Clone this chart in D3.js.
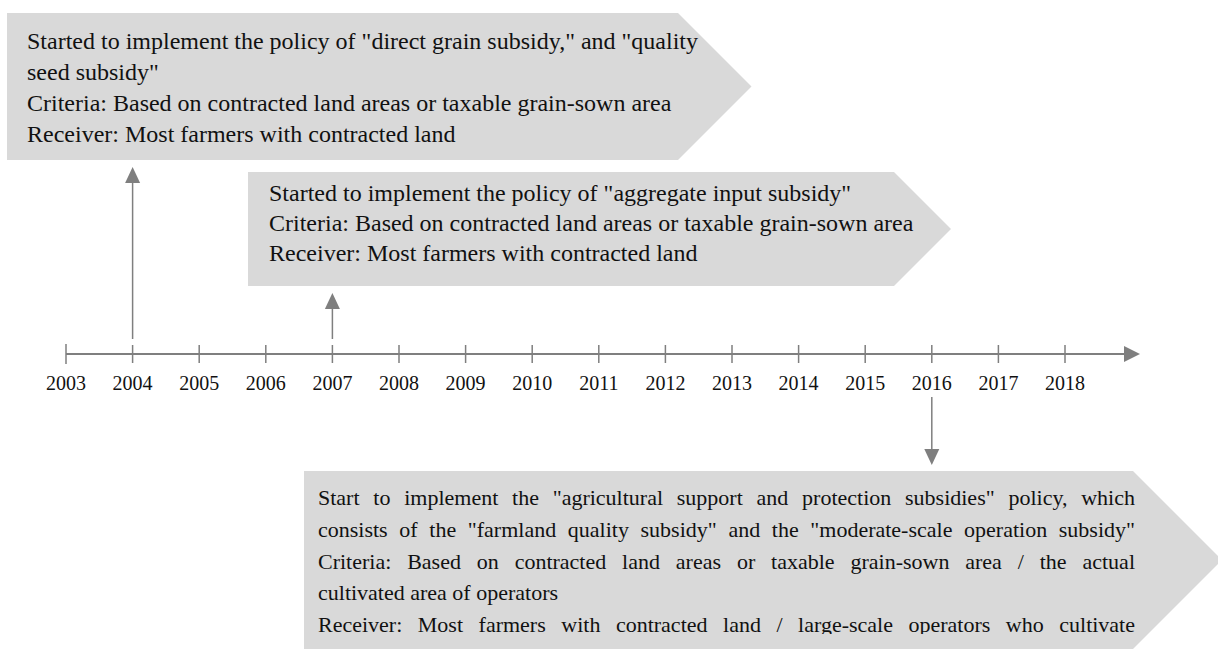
<!DOCTYPE html>
<html>
<head>
<meta charset="utf-8">
<script src="https://cdn.jsdelivr.net/npm/d3@7"></script>
<style>
  html, body { margin: 0; padding: 0; background: #fff; }
  svg { display: block; }
  .box-text { font-family: "Liberation Serif", "Times New Roman", serif; fill: #111; }
  .year-label { font-family: "Liberation Serif", "Times New Roman", serif; font-size: 20px; fill: #111; }
</style>
</head>
<body>
<div id="chart"></div>
<script>
// timeline years
var years = [2003, 2004, 2005, 2006, 2007, 2008, 2009, 2010, 2011, 2012, 2013, 2014, 2015, 2016, 2017, 2018];

// policy events on the timeline
var eventYears = [2004, 2007, 2016];
var eventSides = ["up", "up", "down"];
var eventTexts = [
    [
        'Started to implement the policy of "direct grain subsidy," and "quality',
        'seed subsidy"',
        'Criteria: Based on contracted land areas or taxable grain-sown area',
        'Receiver: Most farmers with contracted land'
    ],
    [
        'Started to implement the policy of "aggregate input subsidy"',
        'Criteria: Based on contracted land areas or taxable grain-sown area',
        'Receiver: Most farmers with contracted land'
    ],
    [
        'Start to implement the "agricultural support and protection subsidies" policy, which',
        'consists of the "farmland quality subsidy" and the "moderate-scale operation subsidy"',
        'Criteria: Based on contracted land areas or taxable grain-sown area / the actual',
        'cultivated area of operators',
        'Receiver: Most farmers with contracted land / large-scale operators who cultivate'
    ]
];
// lines that are justified (last line of a paragraph is not)
var justifyLines = [
    [false, false, false, false],
    [false, false, false],
    [true, true, true, false, true]
];

var width = 1218, height = 649;
var axisY = 354;
var grey = "#7f7f7f";
var fillGrey = "#d9d9d9";

// layout of each callout box (pentagon arrow shape)
var boxLayout = [
    { x: 7, y: 13, w: 671, h: 147, padX: 20, fontSize: 24, firstBase: 49, lineH: 31, textW: null, arrowFrom: 339, arrowTo: 167 },
    { x: 248, y: 172, w: 646, h: 114, padX: 21, fontSize: 24, firstBase: 201, lineH: 30, textW: null, arrowFrom: 339, arrowTo: 293 },
    { x: 304, y: 471, w: 829, h: 178, padX: 14, fontSize: 22, firstBase: 505, lineH: 31.8, textW: 817, arrowFrom: 397, arrowTo: 465 }
];

var svg = d3.select("#chart").append("svg")
    .attr("width", width)
    .attr("height", height);

var defs = svg.append("defs");
defs.append("clipPath").attr("id", "clip-bottom")
    .append("rect").attr("x", 0).attr("y", 0).attr("width", width).attr("height", 634);

var x = d3.scaleLinear()
    .domain([d3.min(years), d3.max(years)])
    .range([66, 1065]);

// boxes
var boxes = svg.append("g").selectAll("g.box")
    .data(eventYears)
    .enter()
    .append("g")
    .attr("class", "box");

boxes.append("path")
    .attr("d", function (d, i) {
        var b = boxLayout[i];
        var tip = b.h / 2;
        return "M" + b.x + "," + b.y +
            "L" + (b.x + b.w) + "," + b.y +
            "L" + (b.x + b.w + tip) + "," + (b.y + b.h / 2) +
            "L" + (b.x + b.w) + "," + (b.y + b.h) +
            "L" + b.x + "," + (b.y + b.h) + "Z";
    })
    .attr("fill", fillGrey);

boxes.each(function (d, i) {
    var b = boxLayout[i];
    var g = d3.select(this).append("g");
    if (i === 2) g.attr("clip-path", "url(#clip-bottom)");
    eventTexts[i].forEach(function (line, j) {
        var ty = b.firstBase + j * b.lineH;
        var tx = b.x + b.padX;
        if (!justifyLines[i][j] || !b.textW) {
            g.append("text")
                .attr("class", "box-text")
                .attr("font-size", b.fontSize)
                .attr("x", tx)
                .attr("y", ty)
                .text(line);
            return;
        }
        // justify: spread the words across the full text width
        var words = line.split(" ");
        var t = g.append("text").attr("class", "box-text")
            .attr("font-size", b.fontSize)
            .attr("y", ty);
        var spans = words.map(function (w) {
            return t.append("tspan").text(w);
        });
        var widths = spans.map(function (s) { return s.node().getComputedTextLength(); });
        var gap = (b.textW - d3.sum(widths)) / (words.length - 1);
        var cx = tx;
        spans.forEach(function (s, k) {
            s.attr("x", cx);
            cx += widths[k] + gap;
        });
    });
});

// axis line with arrow head
svg.append("line")
    .attr("x1", x(2003))
    .attr("x2", 1126)
    .attr("y1", axisY)
    .attr("y2", axisY)
    .attr("stroke", grey)
    .attr("stroke-width", 2);

svg.append("path")
    .attr("d", "M1124," + (axisY - 8) + "L1140," + axisY + "L1124," + (axisY + 8) + "Z")
    .attr("fill", grey);

// ticks
svg.append("g").selectAll("line")
    .data(years)
    .enter()
    .append("line")
    .attr("x1", function (d) { return x(d); })
    .attr("x2", function (d) { return x(d); })
    .attr("y1", function (d, i) { return i === 0 ? axisY - 10 : axisY - 9; })
    .attr("y2", function (d, i) { return i === 0 ? axisY + 10 : axisY + 9; })
    .attr("stroke", grey)
    .attr("stroke-width", 1.5);

// year labels
svg.append("g").selectAll("text")
    .data(years)
    .enter()
    .append("text")
    .attr("class", "year-label")
    .attr("x", function (d) { return x(d); })
    .attr("y", 390)
    .attr("text-anchor", "middle")
    .text(function (d) { return d; });

// event arrows
var arrows = svg.append("g").selectAll("g")
    .data(eventYears)
    .enter()
    .append("g");

arrows.append("line")
    .attr("x1", function (d) { return x(d); })
    .attr("x2", function (d) { return x(d); })
    .attr("y1", function (d, i) { return boxLayout[i].arrowFrom; })
    .attr("y2", function (d, i) {
        var b = boxLayout[i];
        return eventSides[i] === "up" ? b.arrowTo + 10 : b.arrowTo - 10;
    })
    .attr("stroke", grey)
    .attr("stroke-width", 1.5);

arrows.append("path")
    .attr("d", function (d, i) {
        var b = boxLayout[i];
        var cx = x(d);
        var dir = eventSides[i] === "up" ? 1 : -1;
        var baseY = b.arrowTo + dir * 16;
        return "M" + cx + "," + b.arrowTo +
            "L" + (cx + 7.5) + "," + baseY +
            "L" + (cx - 7.5) + "," + baseY + "Z";
    })
    .attr("fill", grey);
</script>
</body>
</html>
